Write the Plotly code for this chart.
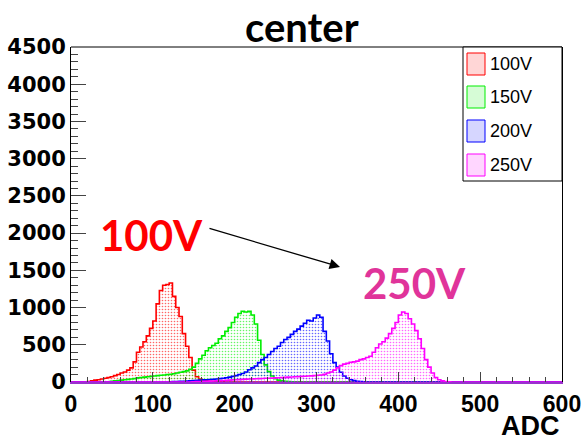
import numpy as np
import plotly.graph_objects as go

# ---- data: counts per 4-ADC bin, each list starts at the given ADC value ----
BIN = 4
ADC_MAX = 600

series_names = ["100V", "150V", "200V", "250V"]
series_colors = ["#ff0000", "#00ee00", "#0000ff", "#ff00ff"]
swatch_fills = ["rgba(255,0,0,0.16)", "rgba(0,238,0,0.16)",
                "rgba(0,0,255,0.16)", "rgba(255,0,255,0.16)"]

start_100V = 20
counts_100V = [5, 15, 25, 30, 40, 50, 60, 70, 85, 100, 120, 135, 160, 190, 270,
               400, 470, 540, 620, 720, 820, 1050, 1230, 1300, 1310, 1330, 1150,
               1000, 880, 650, 480, 330, 160, 70, 40, 25, 15, 10, 6, 4, 3, 2, 1]

start_150V = 48
counts_150V = [10, 15, 20, 25, 30, 35, 40, 45, 55, 60, 65, 70, 75, 80, 85, 90, 95,
               100, 105, 110, 120, 130, 140, 150, 170, 200, 250, 310, 360, 420,
               460, 490, 520, 580, 620, 680, 730, 800, 870, 920, 950, 940, 950,
               900, 780, 560, 370, 230, 140, 80, 45, 25, 15, 8, 5, 3]

start_200V = 120
counts_200V = [3, 5, 6, 8, 10, 12, 15, 18, 22, 25, 28, 30, 33, 36, 40, 45, 50, 58,
               65, 75, 85, 100, 115, 135, 165, 190, 215, 260, 300, 330, 370, 410,
               450, 480, 530, 570, 600, 640, 680, 710, 750, 790, 830, 820, 860,
               900, 870, 680, 550, 380, 260, 200, 130, 80, 50, 30, 18, 10, 6, 3]

start_250V = 150
counts_250V = [3, 5, 6, 8, 10, 12, 14, 16, 18, 20, 22, 25, 28, 30, 32, 35, 38, 40,
               42, 44, 46, 48, 50, 50, 52, 55, 58, 60, 62, 65, 68, 70, 72, 75, 78,
               80, 82, 85, 90, 95, 105, 120, 135, 160, 190, 220, 240, 250, 265,
               270, 280, 300, 310, 330, 345, 400, 460, 510, 540, 590, 650, 720,
               800, 900, 940, 920, 850, 780, 690, 580, 450, 300, 200, 120, 60, 30,
               15, 6, 2]

series_starts = [start_100V, start_150V, start_200V, start_250V]
series_counts = [counts_100V, counts_150V, counts_200V, counts_250V]

x_ticks = [0, 100, 200, 300, 400, 500, 600]
y_ticks = [0, 500, 1000, 1500, 2000, 2500, 3000, 3500, 4000, 4500]

# ---- page geometry ----
W, H = 585, 444
L, R, T, B = 71, 23, 47, 62
PW, PH = W - L - R, H - T - B


def px(xp):
    return (xp - L) / PW


def py(yp):
    return (H - B - yp) / PH


edges = np.arange(0, ADC_MAX + BIN, BIN)

fig = go.Figure()
for name, color, start, counts in zip(series_names, series_colors,
                                      series_starts, series_counts):
    full = np.zeros(len(edges) - 1)
    i0 = start // BIN
    full[i0:i0 + len(counts)] = counts
    y = np.append(full, full[-1])
    fig.add_trace(go.Scatter(
        x=edges, y=y, mode="lines", name=name,
        line=dict(color=color, width=1.6, shape="hv"),
        fill="tozeroy",
        fillcolor="rgba(0,0,0,0)",
        fillpattern=dict(shape=".", fgcolor=color, bgcolor="rgba(255,255,255,0)",
                         size=3, solidity=0.22, fgopacity=0.6),
        showlegend=False, hoverinfo="skip",
    ))

fig.update_layout(
    width=W, height=H,
    margin=dict(l=L, r=R, t=T, b=B, autoexpand=False),
    paper_bgcolor="white", plot_bgcolor="white",
    showlegend=False,
)

fig.update_xaxes(
    range=[0, ADC_MAX], tickvals=x_ticks, ticktext=[str(v) for v in x_ticks],
    automargin=False,
    ticks="inside", ticklen=10, tickwidth=1, tickcolor="#444",
    minor=dict(dtick=20, ticks="inside", ticklen=5, tickcolor="#444"),
    showgrid=False, zeroline=False,
    showline=True, linecolor="#9933cc", linewidth=2,
    tickfont=dict(family="Liberation Sans", size=23, color="black", weight="bold"),
)
fig.update_yaxes(
    range=[0, 4500], tickvals=y_ticks, ticktext=[str(v) for v in y_ticks],
    automargin=False,
    ticks="inside", ticklen=15, tickwidth=1, tickcolor="#444",
    minor=dict(dtick=100, ticks="inside", ticklen=7, tickcolor="#444"),
    showgrid=False, zeroline=False,
    showline=True, linecolor="black", linewidth=1, mirror=True,
    tickfont=dict(family="DejaVu Sans", size=21, color="black", weight="bold"),
)

shapes = [
    # top edge of the frame
    dict(type="line", xref="paper", yref="paper", x0=0, x1=1, y0=1, y1=1,
         line=dict(color="black", width=1)),
    # legend box
    dict(type="rect", xref="paper", yref="paper",
         x0=px(463), x1=1, y0=py(181), y1=1,
         line=dict(color="black", width=1), fillcolor="white"),
]
annotations = []
legend_rows = [64, 97, 131, 165]
for name, color, fillc, yc in zip(series_names, series_colors, swatch_fills,
                                  legend_rows):
    shapes.append(dict(type="rect", xref="paper", yref="paper",
                       x0=px(467), x1=px(485), y0=py(yc + 11), y1=py(yc - 11),
                       line=dict(color=color, width=1),
                       fillcolor=fillc, layer="above"))
    annotations.append(dict(xref="paper", yref="paper", x=px(488), y=py(yc),
                            xanchor="left", yanchor="middle", showarrow=False,
                            text=name,
                            font=dict(family="Liberation Sans", size=18, color="black")))

# title and axis title
annotations.append(dict(xref="paper", yref="paper", x=px(302), y=py(1),
                        xanchor="center", yanchor="top", showarrow=False,
                        text="center",
                        font=dict(family="Lato", size=40, color="black", weight="bold")))
annotations.append(dict(xref="paper", yref="paper", x=px(562), y=py(443),
                        xanchor="right", yanchor="bottom", showarrow=False,
                        text="ADC",
                        font=dict(family="Liberation Sans", size=27, color="black",
                                  weight="bold")))

# voltage labels and arrow
annotations.append(dict(xref="paper", yref="paper", x=px(151), y=py(235),
                        xanchor="center", yanchor="middle", showarrow=False,
                        text="100V",
                        font=dict(family="Lato", size=42, color="#ff0000", weight="bold")))
annotations.append(dict(xref="paper", yref="paper", x=px(414), y=py(283),
                        xanchor="center", yanchor="middle", showarrow=False,
                        text="250V",
                        font=dict(family="Lato", size=42, color="#e0349a", weight="bold")))
annotations.append(dict(xref="paper", yref="paper", axref="pixel", ayref="pixel",
                        x=px(340), y=py(267), ax=208 - 340, ay=228 - 267,
                        text="", showarrow=True, arrowhead=2, arrowsize=1.6,
                        arrowwidth=1.3, arrowcolor="black"))

fig.update_layout(shapes=shapes, annotations=annotations)
fig.write_html("out.html")
